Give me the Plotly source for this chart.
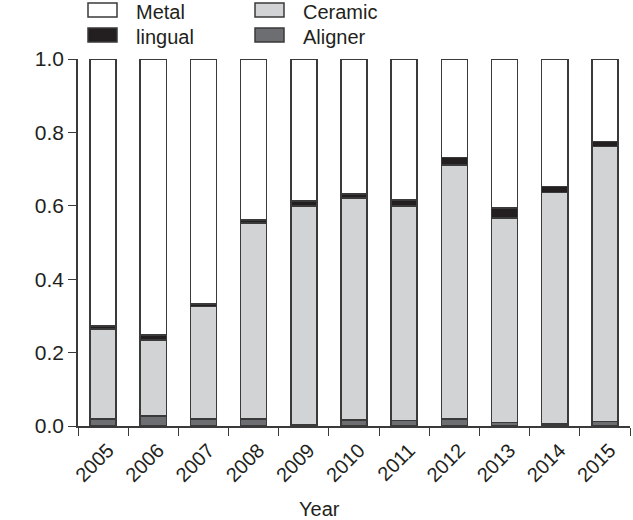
import plotly.graph_objects as go

years = ['2005', '2006', '2007', '2008', '2009', '2010', '2011', '2012', '2013', '2014', '2015']
aligner = [0.019, 0.027, 0.019, 0.019, 0.003, 0.016, 0.015, 0.019, 0.010, 0.006, 0.012]
ceramic = [0.245, 0.207, 0.306, 0.534, 0.597, 0.605, 0.585, 0.692, 0.557, 0.630, 0.749]
lingual = [0.008, 0.014, 0.007, 0.008, 0.013, 0.011, 0.016, 0.020, 0.027, 0.016, 0.014]
metal = [round(1 - a - c - l, 3) for a, c, l in zip(aligner, ceramic, lingual)]

edge_color = '#3a3a3a'
series = [
    ('Aligner', aligner, '#6d6e71'),
    ('Ceramic', ceramic, '#d1d3d4'),
    ('lingual', lingual, '#231f20'),
    ('Metal', metal, '#ffffff'),
]

fig = go.Figure()
for name, vals, color in series:
    fig.add_trace(go.Bar(x=years, y=vals, name=name, showlegend=False,
                         marker=dict(color=color, line=dict(color=edge_color, width=1.5))))

# hand-drawn legend with wide boxes, as in the original figure
legend_slots = {'Metal': (88, 10), 'lingual': (88, 35), 'Ceramic': (255, 10), 'Aligner': (255, 35)}
for name, vals, color in series:
    px, py = legend_slots[name]
    fig.add_shape(type='rect', xref='paper', yref='paper',
                  x0=(px - 78) / 552, x1=(px + 29 - 78) / 552,
                  y0=(426 - py - 7) / 367, y1=(426 - py + 7) / 367,
                  fillcolor=color, line=dict(color=edge_color, width=1.5))
    fig.add_annotation(text=name, xref='paper', yref='paper',
                       x=(px + 47 - 78) / 552, y=(426 - py - 2) / 367,
                       xanchor='left', yanchor='middle', showarrow=False,
                       borderpad=0, font=dict(size=20))

fig.add_annotation(text='Year', xref='paper', yref='paper', x=(319 - 78) / 552, y=(426 - 509) / 367,
                   xanchor='center', yanchor='middle', showarrow=False, borderpad=0,
                   font=dict(size=20))

fig.update_layout(
    width=633, height=520,
    barmode='stack', bargap=0.48,
    plot_bgcolor='white', paper_bgcolor='white',
    margin=dict(l=78, r=3, t=59, b=94, autoexpand=False),
    font=dict(family='Liberation Sans, Arial', size=20, color='#231f20'),
    xaxis=dict(
        tickangle=-45, tickfont=dict(size=20),
        ticklabelshift=5, ticklabelstandoff=3,
        showline=True, linecolor=edge_color, linewidth=1.5,
        ticks='outside', tickson='boundaries', ticklen=8, tickcolor=edge_color,
        showgrid=False,
    ),
    yaxis=dict(
        range=[0, 1.0], tickvals=[0, 0.2, 0.4, 0.6, 0.8, 1.0],
        tickformat='.1f', tickfont=dict(size=21),
        showline=True, linecolor=edge_color, linewidth=1.5,
        ticks='outside', ticklen=8, tickcolor=edge_color,
        showgrid=False, zeroline=False,
    ),
)

fig.write_html("out.html", config={'displayModeBar': False},
               post_script="document.body.style.margin='0px';")
